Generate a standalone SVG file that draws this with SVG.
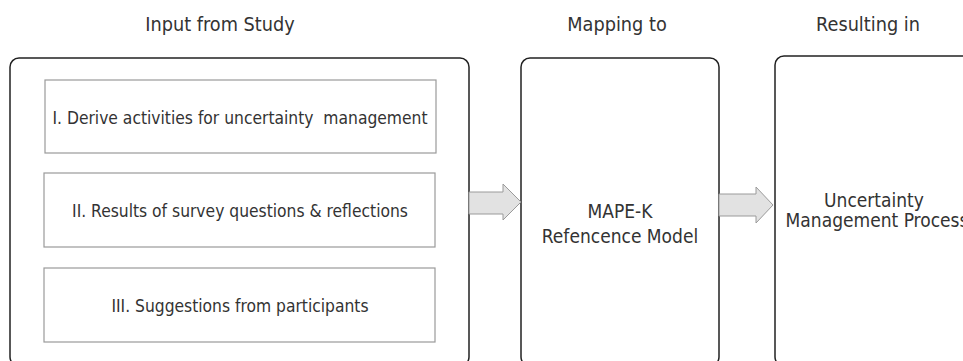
<svg xmlns="http://www.w3.org/2000/svg" width="963" height="361" viewBox="0 0 963 361">
<style>
text{font-family:"DejaVu Sans Condensed","DejaVu Sans",sans-serif;font-stretch:condensed;font-size:19px;fill:#333;text-anchor:middle;white-space:pre}
.hdr{font-size:19.7px}
.item{font-size:17.3px}
.outer{fill:#fff;stroke:#222;stroke-width:1.5}
.inner{fill:#fff;stroke:#9a9a9a;stroke-width:1.2}
.arrow{fill:#e2e2e2;stroke:#9a9a9a;stroke-width:1}
</style>
<rect width="963" height="361" fill="#fff"/>
<g id="headers">
<text class="hdr" x="220" y="31">Input from Study</text>
<text class="hdr" x="617" y="31">Mapping to</text>
<text class="hdr" x="868" y="31">Resulting in</text>
</g>
<g id="input">
<rect class="outer" x="10" y="58" width="459" height="308" rx="9"/>
</g>
<g id="item1">
<rect class="inner" x="45" y="80" width="391" height="73"/>
<text class="item" x="240" y="124">I. Derive activities for uncertainty  management</text>
</g>
<g id="item2">
<rect class="inner" x="44" y="173" width="391" height="74"/>
<text class="item" x="240" y="217">II. Results of survey questions &amp; reflections</text>
</g>
<g id="item3">
<rect class="inner" x="44" y="268" width="391" height="74"/>
<text class="item" x="240" y="312">III. Suggestions from participants</text>
</g>
<g id="mapek">
<rect class="outer" x="521" y="58" width="198" height="308" rx="9"/>
<text x="620" y="218">MAPE-K</text>
<text x="620" y="243">Refencence Model</text>
</g>
<g id="process">
<rect class="outer" x="775" y="56" width="220" height="310" rx="9"/>
<text x="874" y="207">Uncertainty</text>
<text x="877" y="227">Management Process</text>
</g>
<g id="connectors">
<polygon class="arrow" points="469,192 503,192 503,184 521,202 503,220 503,214 469,214"/>
<polygon class="arrow" points="719,194 756,194 756,187 773,205 756,223 756,216 719,216"/>
</g>
</svg>
